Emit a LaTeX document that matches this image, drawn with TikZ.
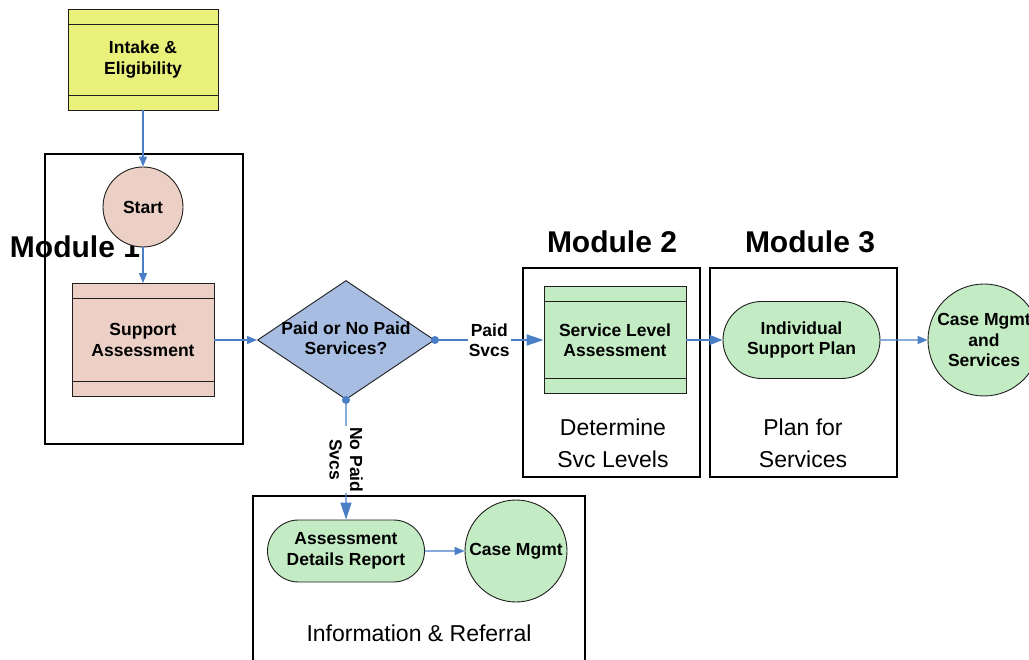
\documentclass[tikz,border=0pt]{standalone}
\usepackage{fontspec}
\setmainfont{Liberation Sans}
\usetikzlibrary{shapes.geometric,shapes.misc,arrows.meta}
\definecolor{link}{RGB}{74,126,199}
\definecolor{fillyellow}{RGB}{233,241,122}
\definecolor{fillpink}{RGB}{236,208,198}
\definecolor{fillblue}{RGB}{168,189,226}
\definecolor{fillgreen}{RGB}{196,236,196}
\definecolor{edge}{RGB}{30,30,30}
\begin{document}
\begin{tikzpicture}[x=1pt,y=-1pt,
  lbl/.style={font=\bfseries\fontsize{17.5}{20.5}\selectfont, align=center},
  shapebase/.style={draw=edge, line width=0.9pt, lbl, inner sep=0pt},
  striped/.style={shapebase, rectangle, path picture={
      \draw[edge, line width=0.9pt]
        ([yshift=-15pt]path picture bounding box.north west) --
        ([yshift=-15pt]path picture bounding box.north east);
      \draw[edge, line width=0.9pt]
        ([yshift=15pt]path picture bounding box.south west) --
        ([yshift=15pt]path picture bounding box.south east);}},
  roundnode/.style={shapebase, circle},
  pill/.style={shapebase, rounded rectangle},
  frame/.style={draw=black, line width=2pt},
  heading/.style={font=\bfseries\fontsize{30}{34}\selectfont},
  caption/.style={font=\fontsize{23}{32}\selectfont, align=center},
  flow/.style={draw=link, line width=1.3pt, -{Triangle[length=10pt,width=8pt]}},
  bigflow/.style={draw=link, line width=1.3pt, -{Triangle[length=17pt,width=11pt]}},
  tag/.style={lbl, fill=white, inner sep=1pt},
  dot/.style={fill=link}
]
\useasboundingbox (0,0) rectangle (1029,660);

% module frames
\draw[frame] (45,154) rectangle (243,444);
\draw[frame] (523,268) rectangle (700,477);
\draw[frame] (710,268) rectangle (897,477);
\draw[frame] (253,496) rectangle (585,700);

% headings and captions
\node[heading] (m1) at (75,247) {Module 1};
\node[heading] (m2) at (612,242) {Module 2};
\node[heading] (m3) at (810,242) {Module 3};
\node[caption] (c2) at (613,443) {Determine\\Svc Levels};
\node[caption] (c3) at (803,443) {Plan for\\Services};
\node[caption] (c4) at (419,633) {Information \& Referral};

% process nodes
\node[striped, fill=fillyellow, minimum width=150pt, minimum height=101pt]
  (intake) at (143,59.5) {Intake \&\\Eligibility};
\node[roundnode, fill=fillpink, minimum size=80pt] (start) at (143,207) {Start};
\node[striped, fill=fillpink, minimum width=142pt, minimum height=113pt]
  (support) at (143,340) {Support\\Assessment};
\node[shapebase, diamond, fill=fillblue, minimum width=177pt, minimum height=119pt]
  (dec) at (346,340) {};
\node[lbl] (dectext) at (346,338) {Paid or No Paid\\Services?};
\node[striped, fill=fillgreen, minimum width=142pt, minimum height=107pt]
  (svc) at (615,340) {Service Level\\Assessment};
\node[pill, fill=fillgreen, minimum width=157pt, minimum height=77pt]
  (isp) at (801.5,340) {Individual\\Support Plan};
\node[roundnode, fill=fillgreen, minimum size=112pt] (cms) at (984,340)
  {Case Mgmt\\and\\Services};
\node[pill, fill=fillgreen, minimum width=157pt, minimum height=62pt]
  (adr) at (346,551) {Assessment\\Details Report};
\node[roundnode, fill=fillgreen, minimum size=102pt] (cm) at (516,551) {Case Mgmt};

% connectors
\draw[flow] (intake) -- (start);
\draw[flow] (start) -- (support);
\draw[flow] (support) -- (dec);
\draw[bigflow] (dec.east) -- node[tag] (paid) {Paid\\Svcs} (svc);
\draw[bigflow] (dec.south) -- node[tag, rotate=-90] (nopaid) {No Paid\\Svcs} (adr);
\fill[dot] (dec.east) circle (4);
\fill[dot] (dec.south) circle (4);
\draw[flow, -{Triangle[length=13pt,width=10pt]}] (svc) -- (isp);
\draw[flow] (isp) -- (cms);
\draw[flow] (adr) -- (cm);
\end{tikzpicture}
\end{document}
